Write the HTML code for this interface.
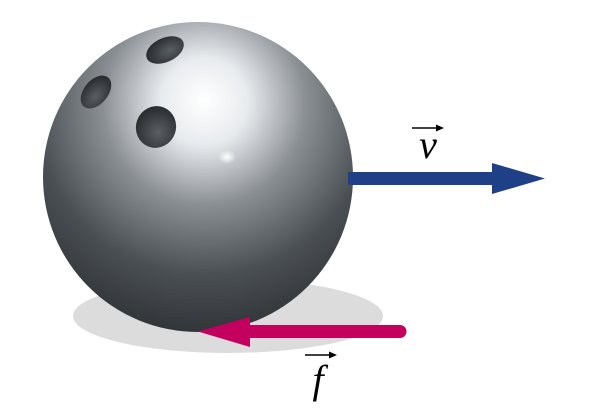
<!DOCTYPE html>
<html><head><meta charset="utf-8"><style>html,body{margin:0;padding:0;background:#fff}svg{display:block}</style></head>
<body>
<svg width="600" height="420" viewBox="0 0 600 420">
<defs>
<radialGradient id="ballg" cx="0.52" cy="0.28" r="0.78" fx="0.52" fy="0.25">
<stop offset="0" stop-color="#ffffff"/>
<stop offset="0.18" stop-color="#e8ebee"/>
<stop offset="0.42" stop-color="#8a8f94"/>
<stop offset="0.7" stop-color="#4a4f53"/>
<stop offset="1" stop-color="#2a2e31"/>
</radialGradient>
<radialGradient id="spot" cx="0.5" cy="0.5" r="0.5">
<stop offset="0" stop-color="#fff" stop-opacity="1"/>
<stop offset="1" stop-color="#fff" stop-opacity="0"/>
</radialGradient>
<radialGradient id="holeg" cx="0.6" cy="0.6" r="0.6">
<stop offset="0" stop-color="#5a5f63"/>
<stop offset="1" stop-color="#2a2e31"/>
</radialGradient>
</defs>
<ellipse cx="228" cy="316" rx="155" ry="37" fill="#dcdcdc"/>
<ellipse cx="198" cy="177" rx="155" ry="155" fill="url(#ballg)"/>
<ellipse cx="227" cy="157" rx="9" ry="7" fill="url(#spot)"/>
<ellipse cx="165" cy="50" rx="20" ry="12" transform="rotate(-25 165 50)" fill="url(#holeg)"/>
<ellipse cx="96" cy="92" rx="12" ry="19" transform="rotate(40 96 92)" fill="url(#holeg)"/>
<ellipse cx="156" cy="127" rx="20" ry="21" transform="rotate(20 156 127)" fill="url(#holeg)"/>
<g fill="#1f3f86">
<rect x="348" y="172" width="146" height="13"/>
<polygon points="492,163 545,178.5 492,194"/>
</g>
<g fill="#c4005f">
<rect x="248" y="325" width="152" height="13"/>
<circle cx="400" cy="331.5" r="6.5"/>
<polygon points="250,317 198,331.5 250,347"/>
</g>
<g>
<text x="428" y="158" font-family="Liberation Serif, serif" font-style="italic" font-size="40" text-anchor="middle" fill="#000">v</text>
<line x1="412" y1="128" x2="438" y2="128" stroke="#000" stroke-width="1.5"/>
<polygon points="436,124.5 444,128 436,131.5" fill="#000"/>
</g>
<g>
<text x="318" y="393" font-family="Liberation Serif, serif" font-style="italic" font-size="40" text-anchor="middle" fill="#000">f</text>
<line x1="305" y1="355" x2="331" y2="355" stroke="#000" stroke-width="1.5"/>
<polygon points="329,351.5 337,355 329,358.5" fill="#000"/>
</g>
</svg>
</body></html>
